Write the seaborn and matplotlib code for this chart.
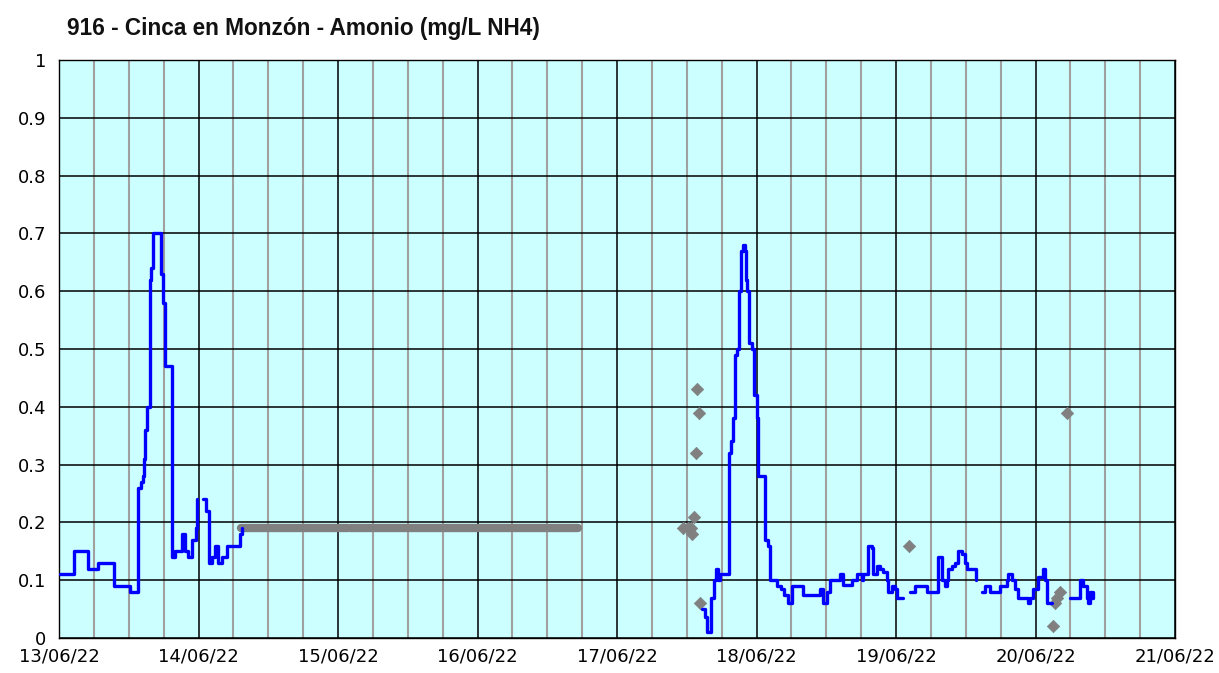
import numpy as np
import pandas as pd
import matplotlib
matplotlib.use("Agg")
import matplotlib.pyplot as plt
import matplotlib.dates as mdates
import seaborn as sns

START = pd.Timestamp("2022-06-13 00:00")

# blue series (continuous measurement): hours since 13/06 00:00 and value
blue_hours = [
    0.2, 2.6, 5.0, 6.7, 9.5, 12.2, 13.6, 14.1, 14.4, 14.6, 14.8, 15.1, 15.6, 15.8,
    16.2, 17.5, 17.9, 18.2, 19.4, 20.0, 20.5, 21.2, 21.7, 22.2, 22.9, 23.6, 23.8,
    24.8, 25.3, 25.8, 26.3, 26.8, 27.3, 28.0, 28.9, 31.1, 31.5,
    110.6, 111.1, 111.5, 112.1, 112.7, 113.0, 113.3, 113.7, 115.2, 115.6, 115.9,
    116.3, 116.6, 117.0, 117.3, 117.6, 118.0, 118.2, 118.3, 118.7, 119.2, 119.5,
    120.1, 120.2, 121.4, 122.0, 122.3, 123.5, 124.2, 124.7, 125.4, 126.1, 128.0,
    130.9, 131.4, 132.1, 132.6, 134.4, 134.9, 136.1, 136.4, 137.3, 138.1, 138.3,
    139.2, 139.9, 140.0, 140.7, 141.2, 141.8, 142.5, 142.6, 143.3, 143.8, 144.2, 145.2,
    146.4, 147.3, 148.6, 149.3, 151.0, 151.2, 151.9, 152.4, 152.8, 152.9, 153.6,
    154.1, 154.7, 155.4, 155.9, 156.2, 157.6, 157.8,
    158.8, 159.3, 160.2, 161.9, 163.1, 163.3, 164.0, 164.5, 165.0, 166.2, 166.7,
    167.1, 167.6, 168.4, 169.3, 169.6, 170.0, 170.8,
    173.9, 175.1, 175.7, 176.2, 176.9, 177.0, 177.4, 177.7, 177.9,
]
blue_vals = [
    0.11, 0.15, 0.12, 0.13, 0.09, 0.08, 0.26, 0.27, 0.28, 0.31, 0.36, 0.40, 0.62, 0.64,
    0.70, 0.63, 0.58, 0.47, 0.14, 0.15, 0.15, 0.18, 0.15, 0.14, 0.17, 0.19, 0.24,
    0.24, 0.22, 0.13, 0.14, 0.16, 0.13, 0.14, 0.16, 0.18, 0.19,
    0.05, 0.036, 0.01, 0.07, 0.10, 0.12, 0.10, 0.11, 0.32, 0.34, 0.38,
    0.49, 0.50, 0.60, 0.67, 0.68, 0.67, 0.62, 0.60, 0.51, 0.50, 0.42,
    0.38, 0.28, 0.17, 0.16, 0.10, 0.09, 0.085, 0.075, 0.06, 0.09, 0.075,
    0.085, 0.06, 0.08, 0.10, 0.11, 0.092, 0.092, 0.10, 0.11, 0.10, 0.11,
    0.16, 0.155, 0.11, 0.125, 0.12, 0.115, 0.10, 0.08, 0.09, 0.085, 0.07, 0.07,
    0.08, 0.09, 0.09, 0.08, 0.08, 0.14, 0.10, 0.09, 0.10, 0.12, 0.125,
    0.13, 0.15, 0.145, 0.13, 0.12, 0.12, 0.10,
    0.08, 0.09, 0.08, 0.09, 0.10, 0.11, 0.10, 0.085, 0.07, 0.07, 0.06,
    0.07, 0.085, 0.105, 0.12, 0.10, 0.06, 0.06,
    0.07, 0.07, 0.10, 0.09, 0.07, 0.06, 0.08, 0.07, 0.08,
]
# hours where the blue record has gaps (no data)
blue_gaps = [24.3, 70.0, 145.8, 158.3, 172.0]

# gray flat series (constant value), start/end hours of each run
flat_hours = [31.3, 49.7, 50.1, 89.3]
flat_vals = [0.19, 0.19, 0.19, 0.19]
flat_seg = [0, 0, 1, 1]

# gray isolated points
dots_hours = [107.4, 108.2, 108.7, 108.9, 109.2, 109.6, 109.7, 110.1, 110.3,
              146.2, 171.0, 171.3, 171.7, 172.2, 173.4]
dots_vals = [0.19, 0.19, 0.19, 0.18, 0.21, 0.32, 0.43, 0.39, 0.06,
             0.16, 0.02, 0.06, 0.07, 0.08, 0.39]

blue = pd.DataFrame({"t": START + pd.to_timedelta(blue_hours, unit="h"),
                     "v": blue_vals,
                     "seg": np.searchsorted(blue_gaps, blue_hours)})
flat = pd.DataFrame({"t": START + pd.to_timedelta(flat_hours, unit="h"),
                     "v": flat_vals, "seg": flat_seg})
dots = pd.DataFrame({"t": START + pd.to_timedelta(dots_hours, unit="h"),
                     "v": dots_vals})

sns.set_style("white")
plt.rcParams["font.family"] = ["DejaVu Sans"]

fig = plt.figure(figsize=(12.19, 6.73), dpi=100)
ax = fig.add_axes([59 / 1219, 1 - 638 / 673, (1175 - 59) / 1219, (638 - 60) / 673])
ax.set_facecolor("#CCFFFF")

sns.lineplot(data=flat, x="t", y="v", units="seg", estimator=None, ax=ax,
             color="#808080", linewidth=6, solid_capstyle="round", zorder=3)
sns.scatterplot(data=dots, x="t", y="v", ax=ax, marker="D", s=40,
                color="#808080", edgecolor="#808080", zorder=3)
sns.lineplot(data=blue, x="t", y="v", units="seg", estimator=None, ax=ax,
             color="#0000FF", linewidth=2.4, drawstyle="steps-post", zorder=4)

ax.set_xlim(START, START + pd.Timedelta(days=8))
ax.set_ylim(0, 1)
ax.xaxis.set_major_locator(mdates.DayLocator())
ax.xaxis.set_minor_locator(mdates.HourLocator(byhour=[6, 12, 18]))
ax.xaxis.set_major_formatter(mdates.DateFormatter("%d/%m/%y"))
ax.set_yticks(np.arange(0, 1.01, 0.1))
ax.set_yticklabels(["0"] + [f"{v:.1f}" for v in np.arange(0.1, 0.95, 0.1)] + ["1"])

ax.grid(True, which="major", axis="both", color="black", linewidth=1.1, zorder=1)
ax.grid(True, which="minor", axis="x", color="#A0A0A0", linewidth=1.5, zorder=1)
ax.set_axisbelow(True)
for s in ax.spines.values():
    s.set_color("black")
    s.set_linewidth(1.0)

ax.tick_params(axis="both", which="major", direction="out", length=5, width=1,
               labelsize=13, colors="black")
ax.tick_params(axis="x", which="minor", length=0)
ax.tick_params(axis="x", pad=2)
ax.tick_params(axis="y", pad=4)
ax.set_xlabel("")
ax.set_ylabel("")

fig.text(67 / 1219, 1 - 28 / 673, "916 - Cinca en Monzón - Amonio (mg/L NH4)",
         fontsize=16.3, fontweight="bold", family="Liberation Sans",
         color="#111111", ha="left", va="center")

fig.savefig("out.png", dpi=100)
